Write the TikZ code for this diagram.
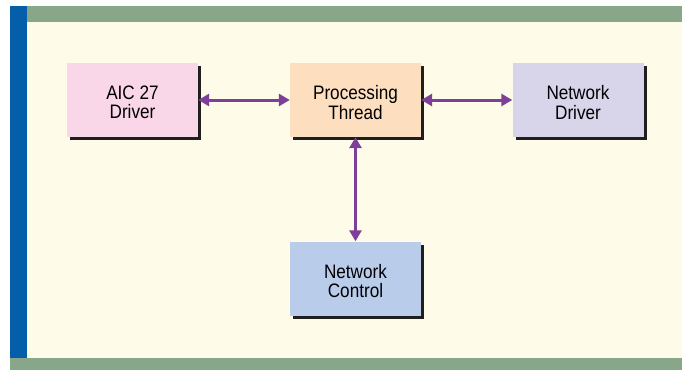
\documentclass[tikz,border=0pt]{standalone}
\usepackage{fontspec}
\setmainfont[FakeStretch=0.88]{Liberation Sans}
\usetikzlibrary{arrows.meta,shadows}
\definecolor{cream}{HTML}{FEFCE8}
\definecolor{bandgreen}{HTML}{88A68A}
\definecolor{barblue}{HTML}{045EA9}
\definecolor{arrowpurple}{HTML}{7D3F98}
\definecolor{pinkbox}{HTML}{F9D7E8}
\definecolor{peachbox}{HTML}{FDDFC0}
\definecolor{lavbox}{HTML}{D8D4EA}
\definecolor{bluebox}{HTML}{B9CDEB}
\tikzset{
  blockbox/.style={rectangle, minimum width=131pt, minimum height=74pt, inner sep=0pt,
    general shadow={fill=black!88, shadow xshift=3pt, shadow yshift=-3pt}},
  blocktext/.style={inner sep=0pt, align=center, font=\fontsize{19.5}{19.5}\selectfont, text=black},
  link/.style={draw=arrowpurple, line width=3pt, {Triangle[length=11pt,width=12pt]}-{Triangle[length=11pt,width=12pt]}}
}
\begin{document}
\begin{tikzpicture}[x=1pt,y=-1pt]
\useasboundingbox (0,0) rectangle (683,370);
\fill[white] (0,0) rectangle (683,370);
\fill[cream] (27,22) rectangle (682,358);
\fill[barblue] (10,6) rectangle (27,358);
\fill[bandgreen] (27,6) rectangle (682,22);
\fill[bandgreen] (10,358) rectangle (682,370);
\node[blockbox, fill=pinkbox] (aic) at (132.5,100) {};
\node[blockbox, fill=peachbox] (proc) at (355.5,100) {};
\node[blockbox, fill=lavbox] (ndrv) at (578,100) {};
\node[blockbox, fill=bluebox] (nctl) at (355.5,278.5) {};
\node[blocktext] (aictext) at ([yshift=-2.5pt]aic.center) {AIC 27\\Driver};
\node[blocktext] (proctext) at ([yshift=-2.5pt]proc.center) {Processing\\Thread};
\node[blocktext] (ndrvtext) at ([yshift=-2.5pt]ndrv.center) {Network\\Driver};
\node[blocktext] (nctltext) at ([yshift=-2.5pt]nctl.center) {Network\\Control};
\draw[link] (aic.east) -- (proc.west);
\draw[link] (proc.east) -- (ndrv.west);
\draw[link] (proc.south) -- (nctl.north);
\end{tikzpicture}
\end{document}
